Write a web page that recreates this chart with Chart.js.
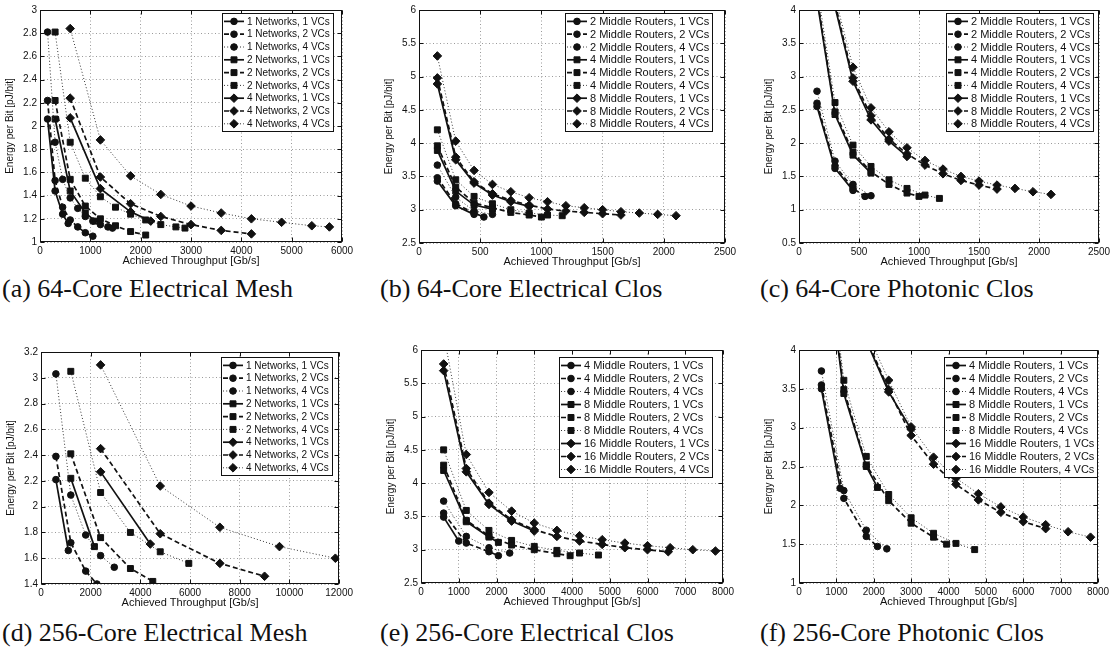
<!DOCTYPE html>
<html><head><meta charset="utf-8">
<script src="https://cdn.jsdelivr.net/npm/chart.js@4.4.0/dist/chart.umd.min.js"></script>
<style>
html,body{margin:0;padding:0;background:#fff}
body{width:1111px;height:654px;position:relative;overflow:hidden}
canvas{position:absolute}
.cap{position:absolute;font-family:"Liberation Serif","DejaVu Serif",serif;font-size:26px;line-height:26px;color:#111;white-space:nowrap}
</style></head><body>
<div class="cap" style="left:2px;top:276px">(a) 64-Core Electrical Mesh</div>
<div class="cap" style="left:380px;top:276px">(b) 64-Core Electrical Clos</div>
<div class="cap" style="left:760px;top:276px">(c) 64-Core Photonic Clos</div>
<div class="cap" style="left:2px;top:620px">(d) 256-Core Electrical Mesh</div>
<div class="cap" style="left:380px;top:620px">(e) 256-Core Electrical Clos</div>
<div class="cap" style="left:760px;top:620px">(f) 256-Core Photonic Clos</div>
<script>
// ---------- labels ----------
const vcLabels = ['1 VCs', '2 VCs', '4 VCs'];
const meshGroups = ['1 Networks', '2 Networks', '4 Networks'];
const clos64Groups = ['2 Middle Routers', '4 Middle Routers', '8 Middle Routers'];
const clos256Groups = ['4 Middle Routers', '8 Middle Routers', '16 Middle Routers'];
const xTitle = 'Achieved Throughput [Gb/s]';
const yTitle = 'Energy per Bit [pJ/bit]';

// ---------- tick labels ----------
const xTicksA = [0, 1000, 2000, 3000, 4000, 5000, 6000];
const yTicksA = [1, 1.2, 1.4, 1.6, 1.8, 2, 2.2, 2.4, 2.6, 2.8, 3];
const xTicksB = [0, 500, 1000, 1500, 2000, 2500];
const yTicksB = [2.5, 3, 3.5, 4, 4.5, 5, 5.5, 6];
const xTicksC = [0, 500, 1000, 1500, 2000, 2500];
const yTicksC = [0.5, 1, 1.5, 2, 2.5, 3, 3.5, 4];
const xTicksD = [0, 2000, 4000, 6000, 8000, 10000, 12000];
const yTicksD = [1.4, 1.6, 1.8, 2, 2.2, 2.4, 2.6, 2.8, 3, 3.2];
const xTicksE = [0, 1000, 2000, 3000, 4000, 5000, 6000, 7000, 8000];
const yTicksE = [2.5, 3, 3.5, 4, 4.5, 5, 5.5, 6];
const xTicksF = [0, 1000, 2000, 3000, 4000, 5000, 6000, 7000, 8000];
const yTicksF = [1, 1.5, 2, 2.5, 3, 3.5, 4];

// ---------- (a) 64-core electrical mesh: [throughput, energy] ----------
const a_1N_1VC = [[150,2.06],[300,1.44],[450,1.24],[560,1.16]];
const a_1N_2VC = [[150,2.22],[300,1.53],[450,1.30],[600,1.19],[750,1.13],[900,1.08],[1050,1.05]];
const a_1N_4VC = [[150,2.81],[300,1.86],[450,1.54],[600,1.38],[750,1.29],[900,1.22],[1050,1.18],[1200,1.15],[1350,1.13],[1440,1.12]];
const a_2N_1VC = [[300,2.06],[600,1.44],[900,1.25],[1100,1.18]];
const a_2N_2VC = [[300,2.22],[600,1.54],[900,1.31],[1200,1.20],[1500,1.14],[1800,1.09],[2100,1.06]];
const a_2N_4VC = [[300,2.81],[600,1.86],[900,1.55],[1200,1.39],[1500,1.30],[1800,1.24],[2100,1.19],[2400,1.15],[2700,1.13],[2880,1.12]];
const a_4N_1VC = [[600,2.07],[1200,1.46],[1800,1.26],[2200,1.18]];
const a_4N_2VC = [[600,2.24],[1200,1.56],[1800,1.33],[2400,1.22],[3000,1.15],[3600,1.10],[4200,1.07]];
const a_4N_4VC = [[600,2.84],[1200,1.88],[1800,1.57],[2400,1.41],[3000,1.31],[3600,1.25],[4200,1.20],[4800,1.17],[5400,1.14],[5750,1.13]];

// ---------- (b) 64-core electrical Clos ----------
const b_2M_1VC = [[150,3.43],[300,3.06],[450,2.93]];
const b_2M_2VC = [[150,3.48],[300,3.09],[450,2.95],[530,2.89]];
const b_2M_4VC = [[150,3.67],[300,3.19],[450,2.98],[600,2.93]];
const b_4M_1VC = [[150,3.89],[300,3.28],[450,3.07],[600,3.01]];
const b_4M_2VC = [[150,3.96],[300,3.34],[450,3.10],[600,3.03],[750,2.96],[900,2.92],[1000,2.89]];
const b_4M_4VC = [[150,4.20],[300,3.45],[450,3.20],[600,3.09],[750,3.00],[900,2.95],[1050,2.92],[1170,2.91]];
const b_8M_1VC = [[150,4.89],[300,3.75],[450,3.40],[600,3.22],[750,3.12],[900,3.05]];
const b_8M_2VC = [[150,4.98],[300,3.79],[450,3.42],[600,3.24],[750,3.14],[900,3.07],[1050,3.01],[1200,2.98],[1350,2.96],[1500,2.94],[1650,2.92]];
const b_8M_4VC = [[150,5.31],[300,4.03],[450,3.59],[600,3.38],[750,3.27],[900,3.18],[1050,3.12],[1200,3.06],[1350,3.03],[1500,3.00],[1650,2.97],[1800,2.95],[1950,2.93],[2100,2.91]];

// ---------- (c) 64-core photonic Clos ----------
const c_2M_1VC = [[150,2.55],[300,1.62],[450,1.29]];
const c_2M_2VC = [[150,2.60],[300,1.66],[450,1.32],[550,1.20]];
const c_2M_4VC = [[150,2.78],[300,1.73],[450,1.38],[600,1.21]];
const c_4M_1VC = [[150,4.15],[300,2.43],[450,1.82],[600,1.55]];
const c_4M_2VC = [[150,4.20],[300,2.47],[450,1.86],[600,1.57],[750,1.38],[900,1.25],[1000,1.20]];
const c_4M_4VC = [[150,4.35],[300,2.61],[450,1.97],[600,1.65],[750,1.45],[900,1.32],[1050,1.22],[1170,1.17]];
const c_8M_1VC = [[150,7.0],[300,4.05],[450,2.93],[600,2.35],[750,2.03],[900,1.80]];
const c_8M_2VC = [[150,7.2],[300,4.10],[450,2.98],[600,2.41],[750,2.06],[900,1.84],[1050,1.67],[1200,1.54],[1350,1.44],[1500,1.37],[1650,1.31]];
const c_8M_4VC = [[150,7.5],[300,4.20],[450,3.14],[600,2.53],[750,2.17],[900,1.93],[1050,1.74],[1200,1.61],[1350,1.50],[1500,1.43],[1650,1.37],[1800,1.32],[1950,1.27],[2100,1.23]];

// ---------- (d) 256-core electrical mesh ----------
const d_1N_1VC = [[600,2.21],[1100,1.66]];
const d_1N_2VC = [[600,2.39],[1200,1.72],[1800,1.50],[2250,1.40]];
const d_1N_4VC = [[600,3.03],[1200,2.09],[1800,1.78],[2400,1.62],[2950,1.53]];
const d_2N_1VC = [[1200,2.22],[2150,1.69]];
const d_2N_2VC = [[1200,2.41],[2400,1.76],[3600,1.52],[4500,1.42]];
const d_2N_4VC = [[1200,3.05],[2400,2.11],[3600,1.80],[4800,1.65],[5950,1.56]];
const d_4N_1VC = [[2400,2.27],[4400,1.71]];
const d_4N_2VC = [[2400,2.45],[4800,1.79],[7200,1.56],[9000,1.46]];
const d_4N_4VC = [[2400,3.10],[4800,2.16],[7200,1.84],[9600,1.69],[11850,1.60]];

// ---------- (e) 256-core electrical Clos ----------
const e_4M_1VC = [[600,3.49],[1000,3.13]];
const e_4M_2VC = [[600,3.55],[1200,3.10],[1800,2.97],[2050,2.91]];
const e_4M_4VC = [[600,3.73],[1200,3.20],[1800,3.03],[2350,2.95]];
const e_8M_1VC = [[600,4.19],[1200,3.42],[1800,3.19],[2050,3.11]];
const e_8M_2VC = [[600,4.27],[1200,3.44],[1800,3.21],[2400,3.07],[3000,3.00],[3600,2.94],[3950,2.91]];
const e_8M_4VC = [[600,4.50],[1200,3.59],[1800,3.29],[2400,3.14],[3000,3.05],[3600,2.99],[4200,2.95],[4700,2.92]];
const e_16M_1VC = [[600,5.69],[1200,4.17],[1800,3.68],[2400,3.43],[3000,3.28]];
const e_16M_2VC = [[600,5.79],[1200,4.22],[1800,3.70],[2400,3.45],[3000,3.30],[3600,3.20],[4200,3.13],[4800,3.08],[5400,3.03],[6000,3.00],[6550,2.97]];
const e_16M_4VC = [[600,6.24],[1200,4.43],[1800,3.86],[2400,3.58],[3000,3.40],[3600,3.29],[4200,3.21],[4800,3.15],[5400,3.10],[6000,3.06],[6600,3.03],[7200,3.00],[7800,2.98]];

// ---------- (f) 256-core photonic Clos ----------
const f_4M_1VC = [[600,3.50],[1100,2.22]];
const f_4M_2VC = [[600,3.55],[1200,2.09],[1800,1.60],[2100,1.47]];
const f_4M_4VC = [[600,3.73],[1200,2.19],[1800,1.68],[2350,1.44]];
const f_8M_1VC = [[600,5.70],[1200,3.44],[1800,2.50],[2100,2.23]];
const f_8M_2VC = [[600,5.80],[1200,3.49],[1800,2.52],[2400,2.06],[3000,1.77],[3600,1.59],[3950,1.50]];
const f_8M_4VC = [[600,6.00],[1200,3.61],[1800,2.63],[2400,2.14],[3000,1.84],[3600,1.64],[4200,1.51],[4700,1.43]];
const f_16M_1VC = [[1800,4.12],[2400,3.46],[3000,2.98]];
const f_16M_2VC = [[1800,4.15],[2400,3.49],[3000,2.90],[3600,2.53],[4200,2.27],[4800,2.07],[5400,1.91],[6000,1.79],[6600,1.70]];
const f_16M_4VC = [[1800,4.25],[2400,3.61],[3000,3.01],[3600,2.62],[4200,2.35],[4800,2.15],[5400,1.98],[6000,1.85],[6600,1.75],[7200,1.66],[7800,1.59]];

// ---------- styling ----------
const SANS = '"Liberation Sans", Arial, Helvetica, sans-serif';
const MARKERS = ['circle', 'rect', 'rectRot'];
const MARKER_R = [3.3, 4.2, 4.3];
const VC_STYLE = [
  {dash: [], width: 1.7, color: '#111'},
  {dash: [5, 3], width: 1.7, color: '#111'},
  {dash: [1, 2.2], width: 1, color: '#333'}
];

function buildDatasets(groups, series) {
  const out = [];
  series.forEach((grp, gi) => {
    grp.forEach((pts, vi) => {
      const st = VC_STYLE[vi];
      out.push({
        label: groups[gi] + ', ' + vcLabels[vi],
        data: pts.map(p => ({x: p[0], y: p[1]})),
        borderColor: st.color, borderWidth: st.width, borderDash: st.dash,
        pointStyle: MARKERS[gi], pointRadius: MARKER_R[gi],
        pointBackgroundColor: '#111', pointBorderColor: '#111', pointBorderWidth: 1,
        tension: 0, fill: false, clip: 0
      });
    });
  });
  return out;
}

function drawMarker(ctx, style, r, x, y) {
  ctx.beginPath();
  if (style === 'circle') { ctx.arc(x, y, r, 0, Math.PI * 2); }
  else if (style === 'rect') { const s = r * Math.SQRT1_2; ctx.rect(x - s, y - s, 2 * s, 2 * s); }
  else { ctx.moveTo(x, y - r); ctx.lineTo(x + r, y); ctx.lineTo(x, y + r); ctx.lineTo(x - r, y); ctx.closePath(); }
  ctx.fill(); ctx.stroke();
}

const boxLegend = {
  id: 'boxLegend',
  afterDraw(chart, args, o) {
    const ctx = chart.ctx, ca = chart.chartArea;
    const ds = chart.data.datasets;
    ctx.save();
    ctx.font = o.fontSize + 'px ' + SANS;
    let tw = 0;
    ds.forEach(d => { tw = Math.max(tw, ctx.measureText(d.label).width); });
    const pad = 2, sw = 20, gap = 3;
    const w = Math.round(pad + sw + gap + tw + 3), h = Math.round(ds.length * o.rowH + 3);
    const x = Math.round(ca.right - o.right - w), y = Math.round(ca.top + o.top);
    ctx.fillStyle = '#fff'; ctx.fillRect(x, y, w, h);
    ctx.strokeStyle = '#111'; ctx.lineWidth = 1; ctx.strokeRect(x + 0.5, y + 0.5, w, h);
    ds.forEach((d, i) => {
      const cy = y + 2 + o.rowH * (i + 0.5);
      ctx.save();
      ctx.strokeStyle = d.borderColor; ctx.lineWidth = d.borderWidth; ctx.setLineDash(d.borderDash);
      ctx.beginPath(); ctx.moveTo(x + pad, cy); ctx.lineTo(x + pad + sw, cy); ctx.stroke();
      ctx.restore();
      ctx.fillStyle = '#111'; ctx.strokeStyle = '#111'; ctx.lineWidth = 1; ctx.setLineDash([]);
      drawMarker(ctx, d.pointStyle, d.pointRadius, x + pad + sw / 2, cy);
      ctx.fillStyle = '#111'; ctx.textBaseline = 'middle'; ctx.textAlign = 'left';
      ctx.fillText(d.label, x + pad + sw + gap, cy + 0.5);
    });
    ctx.restore();
  }
};

const frame = {
  id: 'frame',
  afterDatasetsDraw(chart) {
    const {ctx, chartArea: ca, scales} = chart;
    ctx.save();
    ctx.strokeStyle = '#111'; ctx.lineWidth = 1; ctx.setLineDash([]);
    const L = Math.round(ca.left) + 0.5, T = Math.round(ca.top) + 0.5, R = Math.round(ca.right) - 0.5, B = Math.round(ca.bottom) - 0.5;
    ctx.strokeRect(L, T, R - L, B - T);
    ctx.beginPath();
    scales.x.ticks.forEach(t => {
      const px = Math.round(scales.x.getPixelForValue(t.value)) + 0.5;
      ctx.moveTo(px, B); ctx.lineTo(px, B - 4); ctx.moveTo(px, T); ctx.lineTo(px, T + 4);
    });
    scales.y.ticks.forEach(t => {
      const py = Math.round(scales.y.getPixelForValue(t.value)) + 0.5;
      ctx.moveTo(L, py); ctx.lineTo(L + 4, py); ctx.moveTo(R, py); ctx.lineTo(R - 4, py);
    });
    ctx.stroke();
    ctx.restore();
  }
};

// ---------- panels ----------
const panels = [
  {area: [40, 9, 342, 242], xt: xTicksA, yt: yTicksA, groups: meshGroups,
   series: [[a_1N_1VC, a_1N_2VC, a_1N_4VC], [a_2N_1VC, a_2N_2VC, a_2N_4VC], [a_4N_1VC, a_4N_2VC, a_4N_4VC]],
   leg: {fontSize: 10, rowH: 12.8, right: 9, top: 3}},
  {area: [419, 9, 725, 243], xt: xTicksB, yt: yTicksB, groups: clos64Groups,
   series: [[b_2M_1VC, b_2M_2VC, b_2M_4VC], [b_4M_1VC, b_4M_2VC, b_4M_4VC], [b_8M_1VC, b_8M_2VC, b_8M_4VC]],
   leg: {fontSize: 11, rowH: 12.8, right: 13, top: 3}},
  {area: [799, 9, 1099, 243], xt: xTicksC, yt: yTicksC, groups: clos64Groups,
   series: [[c_2M_1VC, c_2M_2VC, c_2M_4VC], [c_4M_1VC, c_4M_2VC, c_4M_4VC], [c_8M_1VC, c_8M_2VC, c_8M_4VC]],
   leg: {fontSize: 11, rowH: 12.8, right: 6, top: 3}},
  {area: [41, 351, 340, 584], xt: xTicksD, yt: yTicksD, groups: meshGroups,
   series: [[d_1N_1VC, d_1N_2VC, d_1N_4VC], [d_2N_1VC, d_2N_2VC, d_2N_4VC], [d_4N_1VC, d_4N_2VC, d_4N_4VC]],
   leg: {fontSize: 10, rowH: 12.8, right: 7, top: 5}},
  {area: [421, 349, 723, 583], xt: xTicksE, yt: yTicksE, groups: clos256Groups,
   series: [[e_4M_1VC, e_4M_2VC, e_4M_4VC], [e_8M_1VC, e_8M_2VC, e_8M_4VC], [e_16M_1VC, e_16M_2VC, e_16M_4VC]],
   leg: {fontSize: 11, rowH: 13, right: 11, top: 7}},
  {area: [799, 349, 1098, 583], xt: xTicksF, yt: yTicksF, groups: clos256Groups,
   series: [[f_4M_1VC, f_4M_2VC, f_4M_4VC], [f_8M_1VC, f_8M_2VC, f_8M_4VC], [f_16M_1VC, f_16M_2VC, f_16M_4VC]],
   leg: {fontSize: 11, rowH: 13, right: 1, top: 7}}
];

const YW = 36, PT = 8, PR = 16, XH = 26;

panels.forEach(p => {
  const [pl, pt, pr, pb] = p.area;
  const left = pl - YW, top = pt - PT;
  const W = pr - left + PR, H = pb - top + XH;
  const cv = document.createElement('canvas');
  cv.width = W; cv.height = H;
  cv.style.left = left + 'px'; cv.style.top = top + 'px';
  cv.style.width = W + 'px'; cv.style.height = H + 'px';
  document.body.appendChild(cv);
  const tickSetter = arr => (s => { s.ticks = arr.map(v => ({value: v})); });
  new Chart(cv, {
    type: 'line',
    data: {datasets: buildDatasets(p.groups, p.series)},
    plugins: [frame, boxLegend],
    options: {
      responsive: false, animation: false, devicePixelRatio: 1,
      layout: {padding: {top: PT, right: PR, left: 0, bottom: 0}},
      plugins: {legend: {display: false}, tooltip: {enabled: false}, boxLegend: p.leg},
      scales: {
        x: {
          type: 'linear', min: p.xt[0], max: p.xt[p.xt.length - 1],
          afterBuildTicks: tickSetter(p.xt),
          afterFit: s => { s.height = XH; },
          grid: {color: '#9a9a9a', lineWidth: 1, drawTicks: false},
          border: {display: false, dash: [1, 2.5]},
          ticks: {autoSkip: false, maxRotation: 0, padding: 3, color: '#111',
                  font: {family: SANS, size: 10}, callback: v => String(v)},
          title: {display: true, text: xTitle, color: '#111', padding: {top: 0, bottom: 0},
                  font: {family: SANS, size: 11}}
        },
        y: {
          type: 'linear', min: p.yt[0], max: p.yt[p.yt.length - 1],
          afterBuildTicks: tickSetter(p.yt),
          afterFit: s => { s.width = YW; },
          grid: {color: '#9a9a9a', lineWidth: 1, drawTicks: false},
          border: {display: false, dash: [1, 2.5]},
          ticks: {autoSkip: false, padding: 3, color: '#111',
                  font: {family: SANS, size: 10}, callback: v => String(v)},
          title: {display: true, text: yTitle, color: '#111', padding: {top: 0, bottom: 0},
                  font: {family: SANS, size: 10}}
        }
      }
    }
  });
});
</script>
</body></html>
